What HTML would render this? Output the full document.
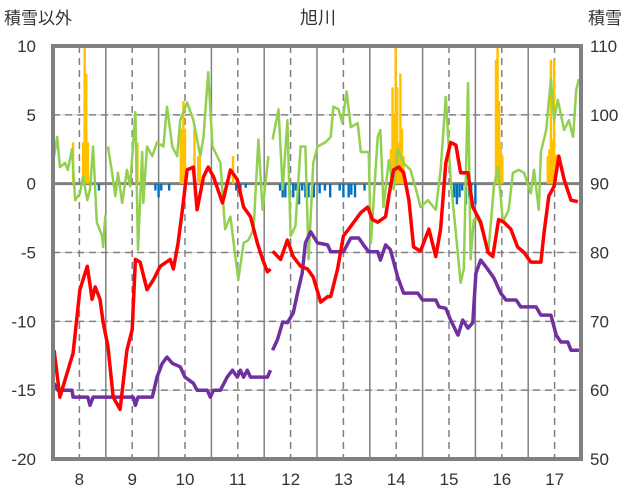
<!DOCTYPE html>
<html><head><meta charset="utf-8"><style>
body{margin:0;background:#fff}
svg{display:block;font-family:"Liberation Sans","Noto Sans CJK JP",sans-serif}
</style></head><body>
<svg id="c" width="636" height="501" viewBox="0 0 636 501">
<text x="318" y="24" text-anchor="middle" font-size="18" fill="#333">旭川</text>
<text x="4" y="24" font-size="17" fill="#333">積雪以外</text>
<text x="588" y="24" font-size="17" fill="#333">積雪</text>
<g id="grid"></g><g id="bars"></g><g id="lines"></g><g id="axes"></g>
</svg>
<script>
const leftTicks=[10,5,0,-5,-10,-15,-20];
const rightTicks=[110,100,90,80,70,60,50];
const dayLabels=[8,9,10,11,12,13,14,15,16,17];
const redDays=[7.52,7.63,7.88,8.01,8.15,8.24,8.30,8.39,8.45,8.54,8.64,8.77,8.90,9.00,9.06,9.15,9.28,9.40,9.53,9.72,9.78,9.87,9.95,10.04,10.16,10.23,10.35,10.44,10.54,10.71,10.86,10.99,11.11,11.24,11.37,11.47,11.56,11.62,11.64,11.66,11.81,11.94,12.05,12.19,12.32,12.43,12.57,12.70,12.76,12.89,13.00,13.14,13.33,13.46,13.55,13.65,13.80,13.86,13.95,14.05,14.14,14.24,14.33,14.46,14.62,14.75,14.84,14.94,15.03,15.13,15.22,15.36,15.45,15.60,15.74,15.83,15.94,16.04,16.17,16.30,16.42,16.55,16.68,16.74,16.80,16.89,16.99,17.08,17.18,17.31,17.44];
const redVals=[-12.1,-15.5,-12.3,-7.7,-6.0,-8.4,-7.5,-8.4,-10.1,-11.8,-15.5,-16.4,-12.1,-10.6,-5.5,-5.7,-7.7,-7.0,-6.0,-5.5,-6.2,-4.3,-1.9,1.0,1.2,-1.9,0.5,1.2,0.5,-1.4,1.0,0.3,-1.7,-2.4,-4.3,-5.5,-6.4,-6.2,null,-4.9,-5.5,-4.1,-5.3,-6.0,-6.2,-6.8,-8.6,-8.2,-8.2,-6.2,-3.8,-3.1,-2.1,-1.7,-2.6,-2.8,-2.4,-0.9,1.0,1.2,0.8,-1.2,-4.6,-4.9,-3.3,-5.3,-3.3,1.5,3.0,2.8,0.8,0.8,-1.7,-2.8,-5.0,-5.3,-2.6,-2.8,-3.3,-4.6,-5.0,-5.7,-5.7,-5.7,-3.6,-0.9,-0.2,2.0,0.3,-1.2,-1.3];
const snowDays=[7.52,7.59,7.86,7.88,8.16,8.20,8.26,9.02,9.06,9.11,9.38,9.47,9.57,9.66,9.76,9.91,10.00,10.16,10.23,10.42,10.48,10.54,10.67,10.80,10.90,10.99,11.05,11.11,11.18,11.24,11.56,11.62,11.64,11.66,11.75,11.85,11.94,12.05,12.13,12.22,12.28,12.38,12.51,12.70,12.76,13.00,13.14,13.29,13.38,13.48,13.65,13.70,13.80,13.89,14.03,14.14,14.41,14.50,14.75,14.81,14.94,15.03,15.17,15.26,15.36,15.45,15.51,15.60,15.74,15.85,15.98,16.08,16.27,16.36,16.65,16.74,16.93,17.03,17.12,17.25,17.31,17.46];
const snowVals=[61.0,60.0,60.0,59.0,59.0,57.8,59.0,59.0,57.8,59.0,59.0,61.9,63.9,64.8,63.9,63.4,61.9,61.0,60.0,60.0,59.0,60.0,60.0,61.9,62.9,61.9,62.9,61.9,62.9,61.9,61.9,62.9,null,65.8,67.3,69.9,69.8,71.2,74.1,77.0,81.4,83.0,81.4,81.1,80.1,80.1,82.1,82.1,81.1,80.1,80.1,78.9,81.1,80.4,76.4,74.1,74.1,73.1,73.1,72.1,71.9,70.2,68.0,70.2,69.0,69.8,77.0,78.9,77.5,76.3,74.1,73.1,73.1,72.1,72.1,70.9,70.9,68.0,67.0,67.0,65.8,65.8];
const greenDays=[7.52,7.58,7.63,7.73,7.78,7.86,7.92,8.01,8.07,8.15,8.20,8.26,8.33,8.43,8.45,8.49,8.51,8.54,8.62,8.68,8.73,8.81,8.90,8.96,9.06,9.11,9.19,9.21,9.28,9.38,9.47,9.59,9.66,9.76,9.85,9.91,10.04,10.16,10.29,10.35,10.44,10.52,10.67,10.76,10.86,11.01,11.11,11.20,11.30,11.39,11.47,11.58,11.62,11.66,11.77,11.85,11.94,12.00,12.09,12.19,12.28,12.34,12.43,12.51,12.66,12.76,12.81,12.91,12.98,13.06,13.14,13.27,13.33,13.48,13.52,13.65,13.70,13.76,13.86,13.95,14.03,14.14,14.27,14.41,14.46,14.60,14.75,14.84,14.94,15.03,15.13,15.22,15.28,15.36,15.41,15.47,15.56,15.66,15.75,15.85,15.93,16.02,16.13,16.21,16.32,16.42,16.55,16.61,16.70,16.74,16.84,16.93,16.99,17.06,17.18,17.27,17.35,17.41,17.46];
const greenVals=[2.0,3.4,1.2,1.5,1.0,2.5,-1.2,-0.7,0.5,-1.2,-0.4,2.7,-2.8,-3.8,-4.6,-2.3,null,2.7,0.8,-0.9,0.8,-1.4,1.0,-0.2,5.2,-4.8,2.3,-1.4,2.7,2.0,3.0,2.7,5.6,2.7,2.0,4.6,5.9,4.6,2.0,3.4,8.1,2.7,1.5,-3.3,-2.4,-7.0,-4.3,-4.1,-3.3,3.2,-1.9,2.0,null,3.2,5.4,-0.4,4.6,-3.8,-3.1,2.7,2.7,-5.5,1.5,2.7,3.0,3.4,5.6,5.4,4.4,6.7,4.1,4.4,2.3,2.3,-4.3,3.4,3.9,-1.7,1.7,-0.4,2.5,1.5,1.0,-0.9,-1.7,-1.2,-1.9,1.0,6.3,0.3,-3.6,-7.2,-6.2,7.3,-5.5,-2.6,-2.6,-3.8,-4.8,-0.2,1.2,-2.8,-1.9,0.8,1.0,0.8,-0.7,1.0,-1.9,2.3,3.9,7.6,4.6,6.1,3.9,4.6,3.4,6.8,7.6];
const orangeDays=[7.88,8.07,8.10,8.13,8.16,9.08,9.10,9.92,9.95,9.97,10.00,10.18,10.25,10.28,10.91,13.90,13.93,13.96,13.99,14.02,14.05,14.08,14.11,14.14,15.89,15.92,15.95,15.98,16.01,16.87,16.90,16.93,16.96,16.99,17.02];
const orangeVals=[3,3,10,8,3,3,3,4,4,6,4,4,2,2,2,2.5,7,5,10,7,3,8,4,2,9,10,6,3,2,2,2.5,9,3.2,9,2.1];
const blueDays=[8.37,8.70,9.44,9.50,9.55,9.70,10.97,11.05,11.15,11.80,11.85,11.90,11.98,12.05,12.10,12.16,12.22,12.28,12.34,12.44,12.55,12.65,12.75,12.93,13.00,13.10,13.15,13.22,13.40,15.10,15.15,15.20,15.25,15.32,15.38,15.42,15.50];
const blueVals=[-0.5,-0.5,-0.5,-1,-0.5,-0.5,-0.5,-0.5,-0.3,-0.5,-1,-1,-0.8,-1,-0.5,-1.5,-0.5,-1,-1,-1,-0.7,-0.5,-1,-0.5,-1,-1,-0.8,-1,-0.5,-1,-1.5,-1,-0.5,-1.5,-1,-0.5,-1.5];

const X0=53,X1=581,Y0=46,Y1=459;
const xS=d=>X0+(d-7.5)*(X1-X0)/10;
const yL=v=>Y0+(10-v)*(Y1-Y0)/30;
const yR=v=>Y0+(110-v)*(Y1-Y0)/60;
const NS='http://www.w3.org/2000/svg';
function mk(p,tag,at){const e=document.createElementNS(NS,tag);for(const k in at)e.setAttribute(k,at[k]);p.appendChild(e);return e;}
const grid=document.getElementById('grid'),bars=document.getElementById('bars'),lines=document.getElementById('lines'),axes=document.getElementById('axes');
leftTicks.forEach(t=>{
  if(t!==0&&t!==10&&t!==-20){
    const g=mk(grid,'line',{x1:X0,x2:X1,y1:yL(t),y2:yL(t),stroke:'#d0d0d0','stroke-width':1});
    
    
    const d=mk(grid,'line',{x1:X0,x2:X1,y1:yL(t),y2:yL(t),stroke:'#808080','stroke-width':1.5,'stroke-dasharray':'7,5'});
    
    
  }
  const tx=mk(axes,'text',{x:36,y:yL(t)+6,'text-anchor':'end','font-size':17,fill:'#333'});
  tx.textContent=t;
  
  
});
rightTicks.forEach(t=>{
  const tx=mk(axes,'text',{x:590,y:yR(t)+6,'font-size':17,fill:'#333'});
  tx.textContent=t;
  
  
});
dayLabels.forEach(d=>{
  const l=mk(grid,'line',{x1:xS(d),x2:xS(d),y1:Y0,y2:Y1,stroke:'#808080','stroke-width':1.5,'stroke-dasharray':'7,5'});
  
  
  if(d<17.5){
    const s=mk(grid,'line',{x1:xS(d+0.5),x2:xS(d+0.5),y1:Y0,y2:Y1,stroke:'#808080','stroke-width':1.5});
    
    
  }
  const tx=mk(axes,'text',{x:xS(d),y:485,'text-anchor':'middle','font-size':17,fill:'#333'});
  tx.textContent=d;
  
  
});
orangeDays.forEach((d,i)=>{
  const v=orangeVals[i];
  const r=mk(bars,'rect',{x:xS(d)-1.2,y:yL(v),width:2.4,height:yL(0)-yL(v),fill:'#ffc000'});
  
  
});
blueDays.forEach((d,i)=>{
  const v=blueVals[i];
  const r=mk(bars,'rect',{x:xS(d)-1.2,y:yL(0),width:2.4,height:yL(v)-yL(0),fill:'#0070c0'});
  
  
});
const z=mk(grid,'line',{x1:X0,x2:X1,y1:yL(0),y2:yL(0),stroke:'#808080','stroke-width':3});


function path(days,vals,ys){let s='',pen=false;days.forEach((d,i)=>{const v=vals[i];if(v===null){pen=false;return;}s+=(pen?'L':'M')+xS(d).toFixed(1)+','+ys(v).toFixed(1);pen=true;});return s;}
const g=mk(lines,'path',{d:path(greenDays,greenVals,yL),fill:'none',stroke:'#92d050','stroke-width':2.5,'stroke-linejoin':'round'});


const p=mk(lines,'path',{d:path(snowDays,snowVals,yR),fill:'none',stroke:'#7030a0','stroke-width':3.5,'stroke-linejoin':'round'});


const r=mk(lines,'path',{d:path(redDays,redVals,yL),fill:'none',stroke:'#ff0000','stroke-width':3.5,'stroke-linejoin':'round'});


const f=mk(axes,'rect',{x:X0,y:Y0,width:X1-X0,height:Y1-Y0,fill:'none',stroke:'#808080','stroke-width':4});


</script>
</body></html>
